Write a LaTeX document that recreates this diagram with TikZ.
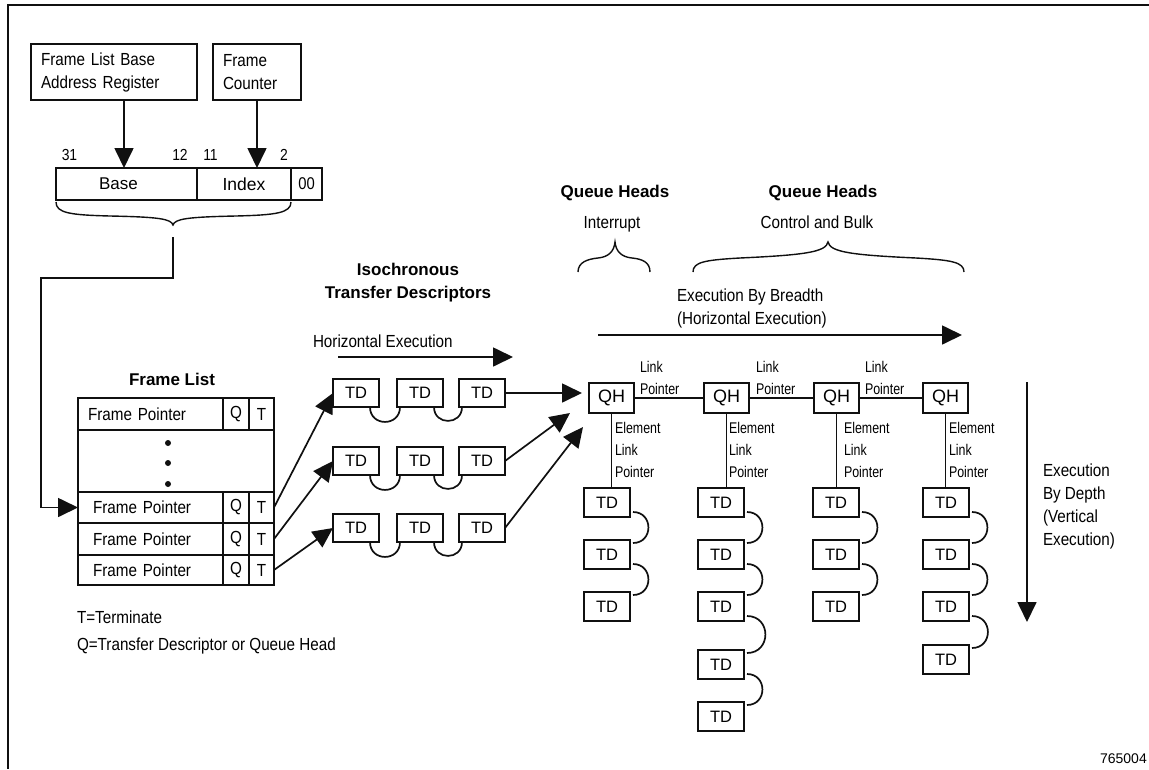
\documentclass[tikz,border=0pt]{standalone}
\usepackage{fontspec}
\setmainfont{Liberation Sans}
\newfontfamily\nar{Liberation Sans}[FakeStretch=0.87]
\newfontfamily\nnar{Liberation Sans}[FakeStretch=0.8]
\usetikzlibrary{arrows.meta,calc}
\definecolor{ink}{HTML}{101010}
\newcommand\lft[1]{\vtop{\halign{##\hfil\cr#1\crcr}}}
\newcommand\ctr[1]{\vtop{\halign{\hfil##\hfil\cr#1\crcr}}}
\tikzset{
  ln/.style={draw=ink, line width=1.7pt},
  arr/.style={ln, -{Triangle[length=20pt,width=19pt]}},
  box/.style={draw=ink, line width=1.9pt, inner sep=0pt, outer sep=0pt, anchor=north west},
  tdbox/.style={box, minimum width=46pt, minimum height=28pt, font=\fontsize{16.5}{20}\selectfont},
  qhbox/.style={box, minimum width=45pt, minimum height=30pt, font=\fontsize{18}{20}\selectfont},
  txt/.style={inner sep=0pt, outer sep=0pt, text=black, font=\nar\fontsize{17.5}{23}\selectfont},
  smalltxt/.style={inner sep=0pt, outer sep=0pt, text=black, font=\nnar\fontsize{15.5}{22}\selectfont},
  boldtxt/.style={inner sep=0pt, outer sep=0pt, text=black, font=\bfseries\fontsize{17}{23}\selectfont},
}
\begin{document}
\begin{tikzpicture}[x=1pt,y=1pt]
\useasboundingbox (0,0) rectangle (1149,-769);
\draw[ln, line width=1.4pt] (1149,-5) -- (8,-5) -- (8,-769);

% registers
\node[box, font=\nar\fontsize{17.5}{23}\selectfont, text width=146pt, inner xsep=10pt, minimum height=56pt, align=left] (flbar) at (31,-44) {Frame List Base\\Address Register};
\node[box, font=\nar\fontsize{17.5}{23}\selectfont, text width=68pt, inner xsep=10pt, minimum height=56pt, align=left] (fc) at (213,-44) {Frame\\Counter};

\node[box, minimum width=141pt, minimum height=32pt, font=\fontsize{17}{20}\selectfont] (base) at (56,-168) {\hspace*{0pt}Base\hspace*{16pt}};
\node[box, minimum width=94pt, minimum height=32pt, font=\fontsize{17.5}{20}\selectfont] (idx) at (197,-168) {Index};
\node[box, minimum width=31pt, minimum height=32pt, font=\nar\fontsize{17}{20}\selectfont] (zero) at (291,-168) {00};

\node[txt, anchor=base, font=\nar\fontsize{16}{20}\selectfont] (b31) at (69.5,-160) {31};
\node[txt, anchor=base, font=\nar\fontsize{16}{20}\selectfont] (b12) at (180,-160) {12};
\node[txt, anchor=base, font=\nar\fontsize{16}{20}\selectfont] (b11) at (210.5,-160) {11};
\node[txt, anchor=base, font=\nar\fontsize{16}{20}\selectfont] (b2) at (284,-160) {2};

\draw[arr] ([xshift=10pt]flbar.south) -- ([xshift=10pt]flbar.south |- base.north);
\draw[arr] (fc.south) -- (fc.south |- idx.north);

% brace under register
\draw[ln, line width=1.4pt] (56,-202) .. controls (56,-213) and (70,-215) .. (110,-216) .. controls (160,-217) and (171,-219) .. (173,-225) .. controls (175,-219) and (186,-217) .. (236,-216) .. controls (276,-215) and (291,-213) .. (291,-202);
\coordinate (btip) at (173,-225);

% frame list
\node[boldtxt, anchor=base] (fltitle) at (172,-385) {Frame List};
\node[box, txt, text width=125pt, inner xsep=10pt, minimum height=32pt, align=left] (fp1) at (78,-398) {Frame Pointer};
\node[box, txt, minimum width=26pt, minimum height=32pt] (q1) at (223,-398) {Q};
\node[box, txt, minimum width=25pt, minimum height=32pt] (t1) at (249,-398) {T};
\node[box, minimum width=196pt, minimum height=62pt] (dots) at (78,-430) {};
\node[box, txt, text width=115pt, inner xsep=15pt, minimum height=31pt, align=left] (fp2) at (78,-492) {Frame Pointer};
\node[box, txt, minimum width=26pt, minimum height=31pt] (q2) at (223,-492) {Q};
\node[box, txt, minimum width=25pt, minimum height=31pt] (t2) at (249,-492) {T};
\node[box, txt, text width=115pt, inner xsep=15pt, minimum height=32pt, align=left] (fp3) at (78,-523) {Frame Pointer};
\node[box, txt, minimum width=26pt, minimum height=32pt] (q3) at (223,-523) {Q};
\node[box, txt, minimum width=25pt, minimum height=32pt] (t3) at (249,-523) {T};
\node[box, txt, text width=115pt, inner xsep=15pt, minimum height=30pt, align=left] (fp4) at (78,-555) {Frame Pointer};
\node[box, txt, minimum width=26pt, minimum height=30pt] (q4) at (223,-555) {Q};
\node[box, txt, minimum width=25pt, minimum height=30pt] (t4) at (249,-555) {T};
\fill[ink] (168,-443) circle[radius=3];
\fill[ink] (168,-463) circle[radius=3];
\fill[ink] (168,-484) circle[radius=3];

\draw[arr] ([yshift=-12pt]btip) |- (41,-278) |- (fp2.west);

\node[txt, anchor=base west] (leg1) at (77,-623) {T=Terminate};
\node[txt, anchor=base west] (leg2) at (77,-650) {Q=Transfer Descriptor or Queue Head};

% isochronous TDs
\node[boldtxt, anchor=base] (iso) at (408,-275) {\ctr{Isochronous\cr Transfer Descriptors}};
\node[txt, anchor=base west] (hexl) at (313,-347) {Horizontal Execution};
\coordinate (he1) at (338,-357);
\coordinate (he2) at (513,-357);
\draw[arr] (he1) -- (he2);

\foreach \r/\y in {1/379, 2/447, 3/514} {
  \node[tdbox] (td\r1) at (333,-\y) {TD};
  \node[tdbox] (td\r2) at (397,-\y) {TD};
  \node[tdbox] (td\r3) at (459,-\y) {TD};
  \draw[ln] ([xshift=-9pt]td\r1.south east) to[out=-90,in=-90,looseness=1.7] ([xshift=3pt]td\r2.south west);
  \draw[ln] ([xshift=-9pt]td\r2.south east) to[out=-90,in=-90,looseness=1.7] ([xshift=3pt]td\r3.south west);
}

\draw[arr] (t2.east) -- (td11.west);
\draw[arr] (t3.east) -- (td21.west);
\draw[arr] (t4.east) -- (td31.west);

% queue heads
\node[boldtxt, anchor=base] (qhi) at (615,-197) {Queue Heads};
\node[txt, anchor=base] (qhil) at (612,-228) {Interrupt};
\node[boldtxt, anchor=base] (qhc) at (823,-197) {Queue Heads};
\node[txt, anchor=base] (qhcl) at (817,-228) {Control and Bulk};

\draw[ln, line width=1.4pt] (578,-272) .. controls (578,-262) and (588,-259) .. (598,-258) .. controls (608,-257) and (614,-252) .. (615,-242) .. controls (616,-252) and (622,-257) .. (632,-258) .. controls (642,-259) and (650,-262) .. (650,-272);
\draw[ln, line width=1.4pt] (693,-272) .. controls (693,-262) and (705,-260) .. (740,-258) .. controls (805,-255) and (826,-252) .. (828,-242) .. controls (830,-252) and (851,-255) .. (916,-258) .. controls (951,-260) and (964,-262) .. (964,-272);

\node[txt, anchor=base west] (ebb) at (677,-301) {\lft{Execution By Breadth\cr (Horizontal Execution)}};
\coordinate (eb1) at (598,-335);
\coordinate (eb2) at (962,-335);
\draw[arr] (eb1) -- (eb2);

\node[qhbox] (qh1) at (589,-383) {QH};
\node[qhbox] (qh2) at (704,-383) {QH};
\node[qhbox] (qh3) at (814,-383) {QH};
\node[qhbox] (qh4) at (923,-383) {QH};
\draw[ln] (qh1.east) -- (qh2.west);
\draw[ln] (qh2.east) -- (qh3.west);
\draw[ln] (qh3.east) -- (qh4.west);

\draw[arr, shorten >=7pt] (td13.east) -- (td13.east -| qh1.west);
\coordinate (a2) at ($(qh1.south west)+(-19,0)$);
\coordinate (a3) at ($(qh1.south west)+(-6,-14)$);
\draw[arr] (td23.east) -- (a2);
\draw[arr] (td33.east) -- (a3);

\node[smalltxt, anchor=base west] (lp1) at (640,-372) {\lft{Link\cr Pointer}};
\node[smalltxt, anchor=base west] (lp2) at (756,-372) {\lft{Link\cr Pointer}};
\node[smalltxt, anchor=base west] (lp3) at (865,-372) {\lft{Link\cr Pointer}};

% TD columns
\foreach \y [count=\i] in {488,540,592} {
  \node[tdbox, minimum height=29pt] (c1\i) at (584,-\y) {TD};
  \node[tdbox, minimum height=29pt] (c3\i) at (813,-\y) {TD};
}
\foreach \y [count=\i] in {488,540,592,650,702} {
  \node[tdbox, minimum height=29pt] (c2\i) at (698,-\y) {TD};
}
\foreach \y [count=\i] in {488,540,592,645} {
  \node[tdbox, minimum height=29pt] (c4\i) at (923,-\y) {TD};
}
\foreach \c/\n in {1/2, 2/4, 3/2, 4/3} {
  \foreach \i in {1,...,\n} {
    \pgfmathtruncatemacro\j{\i+1}
    \draw[ln] ([xshift=3pt,yshift=5pt]c\c\i.south east) to[out=0,in=0,looseness=1.7] ([xshift=3pt,yshift=-3pt]c\c\j.north east);
  }
}
\draw[ln] (qh1.south) -- (qh1.south |- c11.north);
\draw[ln] (qh2.south) -- (qh2.south |- c21.north);
\draw[ln] (qh3.south) -- (qh3.south |- c31.north);
\draw[ln] (qh4.south) -- (qh4.south |- c41.north);

\node[smalltxt, anchor=base west] (el1) at (615,-433) {\lft{Element\cr Link\cr Pointer}};
\node[smalltxt, anchor=base west] (el2) at (729,-433) {\lft{Element\cr Link\cr Pointer}};
\node[smalltxt, anchor=base west] (el3) at (844,-433) {\lft{Element\cr Link\cr Pointer}};
\node[smalltxt, anchor=base west] (el4) at (949,-433) {\lft{Element\cr Link\cr Pointer}};

% depth
\node[txt, anchor=base west] (ebd) at (1043,-476) {\lft{Execution\cr By Depth\cr (Vertical\cr Execution)}};
\coordinate (ed1) at (1027,-382);
\coordinate (ed2) at (1027,-622);
\draw[arr] (ed1) -- (ed2);

\node[inner sep=0pt, anchor=base east, text=black, font=\fontsize{14}{16}\selectfont] (ref) at (1147,-763) {765004};
\end{tikzpicture}
\end{document}
